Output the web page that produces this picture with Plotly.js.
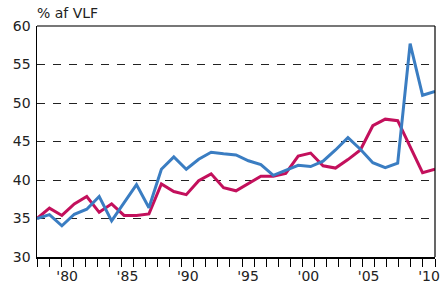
<!DOCTYPE html>
<html>
<head>
<meta charset="utf-8">
<script src="https://cdn.plot.ly/plotly-3.0.1.min.js"></script>
<style>
html,body{margin:0;padding:0;background:#fff;}
#chart{width:444px;height:288px;}
</style>
</head>
<body>
<div id="chart"></div>
<script>
// Years of the series
var years = [1978,1979,1980,1981,1982,1983,1984,1985,1986,1987,1988,1989,1990,1991,1992,1993,1994,1995,1996,1997,1998,1999,2000,2001,2002,2003,2004,2005,2006,2007,2008,2009,2010];
// Blue series (% af VLF)
var blueSeries = [35.0,35.5,34.05,35.55,36.2,37.85,34.7,37.1,39.4,36.4,41.4,43.0,41.4,42.7,43.6,43.4,43.25,42.5,42.0,40.6,41.2,41.9,41.75,42.45,43.9,45.5,44.0,42.25,41.6,42.2,57.7,51.0,51.5];
// Magenta series (% af VLF)
var redSeries = [35.0,36.35,35.4,36.9,37.85,35.8,36.9,35.4,35.4,35.6,39.5,38.5,38.1,39.9,40.8,39.0,38.6,39.55,40.5,40.5,40.85,43.1,43.5,41.85,41.55,42.65,43.9,47.05,47.9,47.7,44.4,40.96,41.4];
// Tick labels
var xTickVals = [1980,1985,1990,1995,2000,2005,2010];
var xTickText = ["'80","'85","'90","'95","'00","'05","'10"];
var yTickVals = [30,35,40,45,50,55,60];
var yTitle = "% af VLF";

var FONT = "DejaVu Sans, Verdana, sans-serif";

var traces = [
  {x: years, y: redSeries, type: 'scatter', mode: 'lines', xaxis: 'x', yaxis: 'y',
   line: {color: '#c3105c', width: 3}, hoverinfo: 'skip', showlegend: false},
  {x: years, y: blueSeries, type: 'scatter', mode: 'lines', xaxis: 'x', yaxis: 'y',
   line: {color: '#3a7dc2', width: 3}, hoverinfo: 'skip', showlegend: false},
  {x: [years[0]], y: [null], type: 'scatter', mode: 'lines', xaxis: 'x2', yaxis: 'y',
   hoverinfo: 'skip', showlegend: false}
];

var layout = {
  width: 444, height: 288,
  margin: {l: 37, r: 9, t: 26, b: 31, pad: 0},
  paper_bgcolor: '#fff', plot_bgcolor: '#fff',
  font: {family: FONT, size: 14, color: '#222'},
  xaxis: {
    range: [years[0], years[years.length-1]],
    visible: false, fixedrange: true
  },
  xaxis2: {
    overlaying: 'x', anchor: 'y', side: 'bottom',
    range: [years[0]-0.5, years[years.length-1]+0.5],
    tickmode: 'array', tickvals: xTickVals, ticktext: xTickText,
    ticks: '', showgrid: false, zeroline: false,
    showline: true, linecolor: '#000', linewidth: 1.5,
    tickfont: {family: FONT, size: 14, color: '#222'},
    ticklabelstandoff: 6,
    minor: {tick0: years[0]-0.5, dtick: 1, ticks: 'outside', ticklen: 8, tickcolor: '#000', tickwidth: 1, showgrid: false},
    fixedrange: true
  },
  yaxis: {
    range: [30, 60],
    tickmode: 'array', tickvals: yTickVals,
    ticks: '', showgrid: true, gridcolor: '#222', gridwidth: 1, griddash: '8px,8px',
    zeroline: false, showline: true, linecolor: '#000', linewidth: 1.5,
    tickfont: {family: FONT, size: 14, color: '#222'},
    ticklabelstandoff: 2,
    fixedrange: true
  },
  shapes: [
    {type: 'line', xref: 'paper', yref: 'paper', x0: 0, x1: 1, y0: 1, y1: 1,
     line: {color: '#777', width: 2}},
    {type: 'line', xref: 'paper', yref: 'paper', x0: 1, x1: 1, y0: 0, y1: 1,
     line: {color: '#000', width: 1.2}}
  ],
  annotations: [
    {text: yTitle, xref: 'paper', yref: 'paper', x: 0, y: 1, xanchor: 'left', yanchor: 'bottom',
     xshift: -2, yshift: 3, showarrow: false, font: {family: FONT, size: 14, color: '#222'}}
  ]
};

Plotly.newPlot('chart', traces, layout, {staticPlot: true, displayModeBar: false});
</script>
</body>
</html>
